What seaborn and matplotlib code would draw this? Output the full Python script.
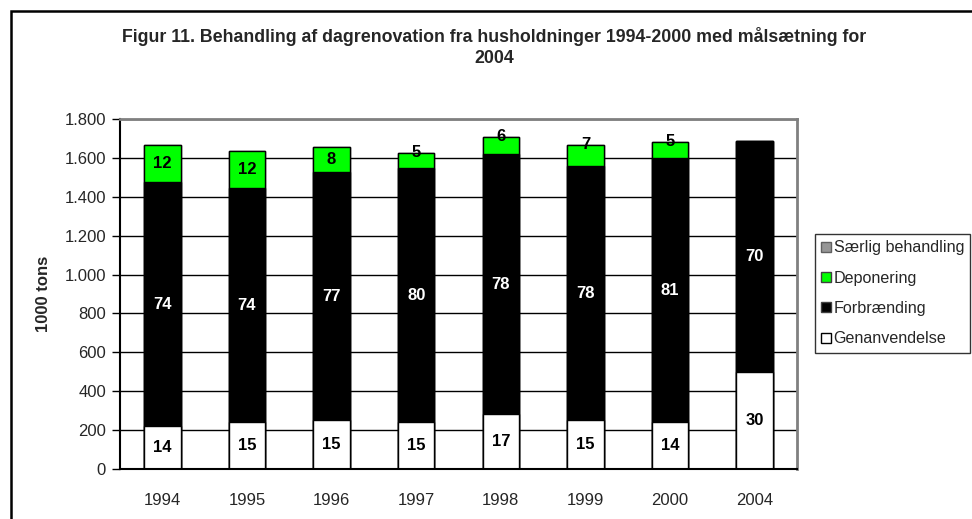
import numpy as np
import pandas as pd
import seaborn as sns
import matplotlib.pyplot as plt
from matplotlib.patches import Patch, Rectangle

# data, 1000 tons
years = ["1994", "1995", "1996", "1997", "1998", "1999", "2000", "2004"]
genanvendelse = [221, 240, 250, 240, 283, 250, 240, 497]
forbraending = [1254, 1204, 1278, 1307, 1335, 1308, 1357, 1190]
deponering = [192, 192, 127, 78, 88, 107, 87, 0]
saerlig = [0, 0, 0, 0, 0, 0, 0, 0]

# percent labels shown in the bars
pct_gen = [14, 15, 15, 15, 17, 15, 14, 30]
pct_forb = [74, 74, 77, 80, 78, 78, 81, 70]
pct_dep = [12, 12, 8, 5, 6, 7, 5, None]

yticks = [0, 200, 400, 600, 800, 1000, 1200, 1400, 1600, 1800]
ytick_labels = ["0", "200", "400", "600", "800", "1.000", "1.200", "1.400", "1.600", "1.800"]

groen = "#00ff00"
graa = "#969696"

sns.set_style("white")
plt.rcParams["font.family"] = ["Liberation Sans", "DejaVu Sans"]

df = pd.DataFrame({
    "aar": years,
    "gen": genanvendelse,
    "forb": forbraending,
    "dep": deponering,
    "saerlig": saerlig,
})
df["top_gen"] = df["gen"]
df["top_forb"] = df["top_gen"] + df["forb"]
df["top_dep"] = df["top_forb"] + df["dep"]
df["top_saerlig"] = df["top_dep"] + df["saerlig"]

fig = plt.figure(figsize=(9.72, 5.19), dpi=100)
ax = fig.add_axes([120 / 972, 50 / 519, 677 / 972, 350 / 519])

# stacked bars: draw cumulative totals from the top down
bw = 0.43
for col, farve in [("top_saerlig", graa), ("top_dep", groen),
                   ("top_forb", "black"), ("top_gen", "white")]:
    sns.barplot(data=df, x="aar", y=col, color=farve, saturation=1,
                edgecolor="black", linewidth=1, width=bw, ax=ax)

# labels in the segments
for i in range(len(years)):
    g = df["gen"][i]
    f = df["forb"][i]
    d = df["dep"][i]
    ax.text(i, g / 2, str(pct_gen[i]), ha="center", va="center",
            fontsize=12, fontweight="bold", color="black")
    ax.text(i, g + f / 2, str(pct_forb[i]), ha="center", va="center",
            fontsize=12, fontweight="bold", color="white")
    if pct_dep[i] is not None:
        y = g + f + d / 2
        if d < 120:
            y = g + f + d + 2
        ax.text(i, y, str(pct_dep[i]), ha="center", va="center",
                fontsize=12, fontweight="bold", color="black")

ax.set_ylim(0, 1800)
ax.set_xlim(-0.5, len(years) - 0.5)
ax.set_yticks(yticks)
ax.set_yticklabels(ytick_labels)
ax.yaxis.grid(True, color="black", linewidth=1)
ax.set_axisbelow(True)

ax.set_xticks(np.arange(len(years)))
ax.set_xticklabels(years)
ax.set_xticks(np.arange(len(years) + 1) - 0.5, minor=True)
ax.tick_params(axis="x", which="major", length=0, pad=17, labelsize=12)
ax.tick_params(axis="x", which="minor", length=5, width=1, color="black", direction="out")
ax.tick_params(axis="y", length=6, width=1, color="black", direction="out", pad=4, labelsize=12, left=True)

ax.set_xlabel("")
ax.set_ylabel("1000 tons", fontsize=12, fontweight="bold")
ax.yaxis.set_label_coords(-69 / 677, 0.5)

for s in ["left", "bottom"]:
    ax.spines[s].set_color("black")
    ax.spines[s].set_linewidth(1.5)
for s in ["top", "right"]:
    ax.spines[s].set_visible(True)
    ax.spines[s].set_color("#808080")
    ax.spines[s].set_linewidth(2)

# legend
handles = [
    Patch(facecolor=graa, edgecolor="#606060", label="Særlig behandling"),
    Patch(facecolor=groen, edgecolor="#404040", label="Deponering"),
    Patch(facecolor="black", edgecolor="#404040", label="Forbrænding"),
    Patch(facecolor="white", edgecolor="black", label="Genanvendelse"),
]
leg = fig.legend(handles=handles, loc="upper left",
                 bbox_to_anchor=(815 / 972, 1 - 234 / 519),
                 fontsize=11.6, frameon=True, fancybox=False, shadow=False,
                 handlelength=0.6, handleheight=0.6, handletextpad=0.15,
                 labelspacing=0.95, borderpad=0.4, borderaxespad=0)
leg.get_frame().set_edgecolor("black")
leg.get_frame().set_linewidth(1)

# title
fig.text(0.508, 1 - 47 / 519,
         "Figur 11. Behandling af dagrenovation fra husholdninger 1994-2000 med målsætning for\n2004",
         ha="center", va="center", fontsize=12.8, fontweight="bold", linespacing=1.25)

# chart area border
fig.patches.append(Rectangle((11 / 972, -0.1), 1.2, 1.1 - 11 / 519,
                             transform=fig.transFigure, fill=False,
                             edgecolor="black", linewidth=1.8))

fig.savefig("out.png", dpi=100)
